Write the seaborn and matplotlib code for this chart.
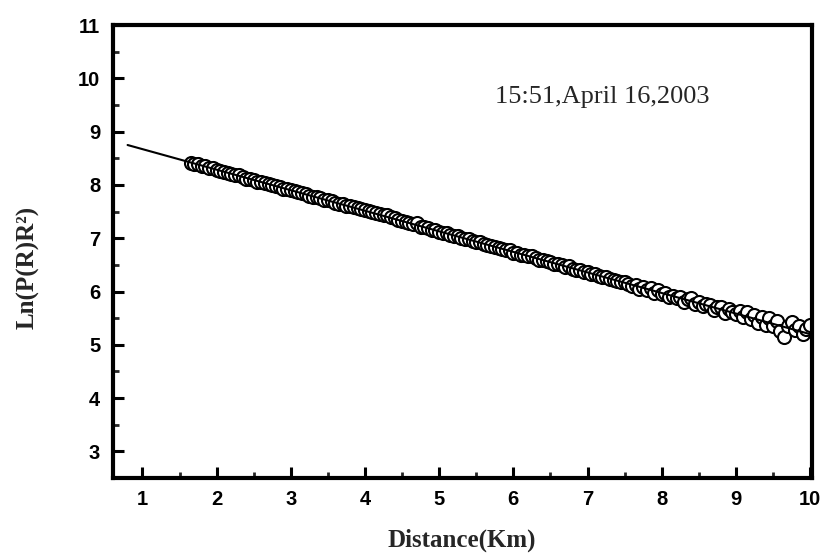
import numpy as np
import pandas as pd
import matplotlib
matplotlib.use("Agg")
import matplotlib.pyplot as plt
from matplotlib.ticker import MultipleLocator
import seaborn as sns

# ---- data ----
dist_start = 1.65   # km, first range bin
dist_step = 0.05    # km, range resolution
ln_pr2 = [
    8.41, 8.40, 8.39, 8.36, 8.35, 8.32, 8.31, 8.29, 8.26, 8.25,
    8.23, 8.20, 8.19, 8.18, 8.15, 8.12, 8.11, 8.10, 8.06, 8.05,
    8.04, 8.02, 7.99, 7.98, 7.96, 7.93, 7.92, 7.90, 7.89, 7.86,
    7.84, 7.83, 7.80, 7.78, 7.77, 7.75, 7.72, 7.71, 7.69, 7.67,
    7.65, 7.64, 7.61, 7.60, 7.58, 7.57, 7.55, 7.53, 7.51, 7.49,
    7.47, 7.45, 7.44, 7.43, 7.40, 7.38, 7.35, 7.32, 7.30, 7.28,
    7.27, 7.28, 7.22, 7.21, 7.19, 7.15, 7.16, 7.12, 7.10, 7.09,
    7.06, 7.05, 7.04, 7.00, 6.99, 6.98, 6.95, 6.93, 6.92, 6.89,
    6.88, 6.86, 6.84, 6.82, 6.79, 6.78, 6.77, 6.72, 6.72, 6.69,
    6.68, 6.66, 6.66, 6.62, 6.60, 6.59, 6.57, 6.56, 6.52, 6.52,
    6.50, 6.46, 6.48, 6.42, 6.41, 6.40, 6.37, 6.36, 6.33, 6.32,
    6.30, 6.27, 6.27, 6.24, 6.21, 6.20, 6.18, 6.17, 6.15, 6.10,
    6.12, 6.05, 6.09, 6.03, 6.06, 5.98, 6.02, 5.95, 5.98, 5.90,
    5.92, 5.87, 5.90, 5.80, 5.86, 5.88, 5.76, 5.81, 5.73, 5.77,
    5.74, 5.66, 5.71, 5.70, 5.60, 5.68, 5.62, 5.57, 5.63, 5.52,
    5.62, 5.48, 5.55, 5.40, 5.52, 5.38, 5.50, 5.35, 5.45, 5.26,
    5.15, 5.35, 5.42, 5.28, 5.36, 5.20, 5.30, 5.38,
]
distance = np.round(dist_start + dist_step * np.arange(len(ln_pr2)), 2)

fit_x = [0.8, 10.0]
fit_y = [8.75, 5.20]

x_ticks = [1, 2, 3, 4, 5, 6, 7, 8, 9, 10]
y_ticks = [3, 4, 5, 6, 7, 8, 9, 10, 11]
annotation = "15:51,April 16,2003"
x_label = "Distance(Km)"
y_label = "Ln(P(R)R\u00b2)"

df = pd.DataFrame({"distance": distance, "ln": ln_pr2})
fit = pd.DataFrame({"x": fit_x, "y": fit_y})

# ---- plot ----
sns.set_style("ticks")
plt.rcParams["font.family"] = ["Liberation Sans", "DejaVu Sans"]

fig = plt.figure(figsize=(8.29, 5.59), dpi=100)
ax = fig.add_axes([0.136, 0.145, 0.843, 0.81])

sns.scatterplot(data=df, x="distance", y="ln", ax=ax, marker="o",
                facecolor="white", edgecolor="black", s=88, linewidth=1.5,
                zorder=2, legend=False)
sns.lineplot(data=fit, x="x", y="y", ax=ax, color="black", linewidth=1.5,
             zorder=3, legend=False)

ax.set_xlim(0.6, 10.02)
ax.set_ylim(2.5, 11.0)
ax.set_xticks(x_ticks)
ax.set_yticks(y_ticks)
ax.xaxis.set_minor_locator(MultipleLocator(0.5))
ax.yaxis.set_minor_locator(MultipleLocator(0.5))

for s in ax.spines.values():
    s.set_linewidth(3.0)
    s.set_color("black")
    s.set_visible(True)

ax.tick_params(axis="both", which="major", direction="in", length=8,
               width=2.2, pad=9, labelsize=14.5, colors="black")
ax.tick_params(axis="both", which="minor", direction="in", length=4.5,
               width=2.0)
ax.tick_params(top=False, right=False, which="both")
for lab in ax.get_xticklabels() + ax.get_yticklabels():
    lab.set_fontweight("bold")
    lab.set_family("Liberation Sans")

serif = ["Liberation Serif", "DejaVu Serif"]
ax.set_xlabel(x_label, fontsize=18, fontweight="bold", family=serif,
              labelpad=14)
ax.set_ylabel(y_label, fontsize=18, fontweight="bold", family=serif)
ax.yaxis.set_label_coords(-0.104, 0.466)
ax.text(0.547, 0.841, annotation, transform=ax.transAxes, fontsize=19,
        family=serif, ha="left", va="center")

fig.savefig("out.png", dpi=100)
